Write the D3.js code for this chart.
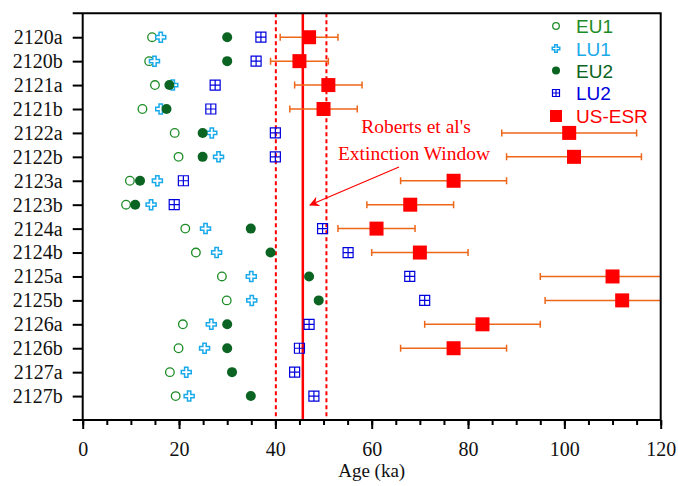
<!DOCTYPE html>
<html>
<head>
<meta charset="utf-8">
<script src="https://cdn.jsdelivr.net/npm/d3@7"></script>
<style>
  body { margin: 0; background: #fff; }
  svg { display: block; }
</style>
</head>
<body>
<svg id="chart"></svg>
<script>
// samples, top to bottom
const samples = ["2120a", "2120b", "2121a", "2121b", "2122a", "2122b", "2123a", "2123b",
                 "2124a", "2124b", "2125a", "2125b", "2126a", "2126b", "2127a", "2127b"];

// ages in ka
const eu1 = [14.4, 13.8, 15.0, 12.4, 19.1, 19.9, 9.8, 9.0, 21.3, 23.5, 28.9, 29.9, 20.8, 19.9, 18.1, 19.3];
const lu1 = [16.2, 14.9, 18.7, 16.2, 26.8, 28.2, 15.5, 14.2, 25.5, 27.8, 35.0, 35.1, 26.7, 25.3, 21.5, 22.1];
const eu2 = [30.0, 30.0, 18.0, 17.4, 24.9, 24.9, 11.9, 10.9, 34.9, 39.0, 47.0, 49.0, 30.0, 30.0, 31.0, 34.9];
const lu2 = [37.0, 36.0, 27.5, 26.6, 40.0, 40.0, 20.9, 19.0, 49.8, 55.1, 67.9, 71.0, 47.0, 45.0, 44.0, 48.0];
const esr = [47, 45, 51, 50, 101, 102, 77, 68, 61, 70, 110, 112, 83, 77, null, null];
const esrErr = [6, 6, 7, 7, 14, 14, 11, 9, 8, 10, 15, 16, 12, 11, null, null];

// extinction window (Roberts et al)
const windowLow = 40.1;
const windowMid = 45.7;
const windowHigh = 50.6;

const xMajorTicks = [0, 20, 40, 60, 80, 100, 120];
const xMinorTicks = d3.range(0, 121, 5);

const width = 678;
const height = 486;
const plotLeft = 82.7, plotRight = 660.7, plotTop = 13.3, plotBottom = 420;

const colEU1 = "#1e8c26";
const colLU1 = "#1aaaea";
const colEU2 = "#0b6422";
const colLU2 = "#0000dd";
const colESR = "#ff0000";
const colErr = "#ee6618";
const serif = "'Liberation Serif', 'Times New Roman', serif";

const svg = d3.select("#chart")
    .attr("width", width)
    .attr("height", height);

const x = d3.scaleLinear().domain([0, 120]).range([plotLeft, plotRight]);
const y = d3.scalePoint().domain(samples).range([plotTop, plotBottom]).padding(1);

// vertical window lines
svg.append("line")
    .attr("x1", x(windowMid)).attr("x2", x(windowMid))
    .attr("y1", plotTop).attr("y2", plotBottom)
    .attr("stroke", colESR).attr("stroke-width", 2.5);
[windowLow, windowHigh].forEach(function (v) {
    svg.append("line")
        .attr("x1", x(v)).attr("x2", x(v))
        .attr("y1", plotTop).attr("y2", plotBottom)
        .attr("stroke", colESR).attr("stroke-width", 2)
        .attr("stroke-dasharray", "4,3");
});

// error bars
const esrRows = samples.map(function (s, i) {
    return { s: s, v: esr[i], e: esrErr[i] };
}).filter(function (d) { return d.v !== null; });

svg.append("clipPath").attr("id", "clip")
    .append("rect").attr("x", plotLeft).attr("y", plotTop)
    .attr("width", plotRight - plotLeft).attr("height", plotBottom - plotTop);
const plot = svg.append("g");
const bars = plot.append("g").attr("clip-path", "url(#clip)");

esrRows.forEach(function (d) {
    const yy = y(d.s);
    bars.append("line")
        .attr("x1", x(d.v - d.e)).attr("x2", x(d.v + d.e))
        .attr("y1", yy).attr("y2", yy)
        .attr("stroke", colErr).attr("stroke-width", 1.5);
    [d.v - d.e, d.v + d.e].forEach(function (c) {
        bars.append("line")
            .attr("x1", x(c)).attr("x2", x(c))
            .attr("y1", yy - 3.5).attr("y2", yy + 3.5)
            .attr("stroke", colErr).attr("stroke-width", 1.5);
    });
});

// markers
function crossPath(w) {
    return d3.symbol().type(d3.symbolCross).size(5 * (w / 3) * (w / 3))();
}
function gridPath(h) {
    return "M" + (-h) + "," + (-h) + "H" + h + "V" + h + "H" + (-h) + "Z" +
           "M0," + (-h) + "V" + h + "M" + (-h) + ",0H" + h;
}

function drawEU1(g, cx, cy, r) {
    g.append("circle").attr("cx", cx).attr("cy", cy).attr("r", r)
        .attr("fill", "#fff").attr("stroke", colEU1).attr("stroke-width", 1.3);
}
function drawLU1(g, cx, cy, w) {
    g.append("path").attr("transform", "translate(" + cx + "," + cy + ")")
        .attr("d", crossPath(w))
        .attr("fill", "#fff").attr("stroke", colLU1).attr("stroke-width", 1.5);
}
function drawEU2(g, cx, cy, r) {
    g.append("circle").attr("cx", cx).attr("cy", cy).attr("r", r).attr("fill", colEU2);
}
function drawLU2(g, cx, cy, h) {
    g.append("path").attr("transform", "translate(" + cx + "," + cy + ")")
        .attr("d", gridPath(h))
        .attr("fill", "none").attr("stroke", colLU2).attr("stroke-width", 1.2);
}
function drawESR(g, cx, cy, s) {
    g.append("rect").attr("x", cx - s / 2).attr("y", cy - s / 2)
        .attr("width", s).attr("height", s).attr("fill", colESR);
}

samples.forEach(function (s, i) {
    const yy = y(s);
    drawEU1(plot, x(eu1[i]), yy, 4.3);
    drawLU1(plot, x(lu1[i]), yy, 10);
    drawEU2(plot, x(eu2[i]), yy, 5);
    drawLU2(plot, x(lu2[i]), yy, 5);
});
esrRows.forEach(function (d) {
    drawESR(plot, x(d.v), y(d.s), 14);
});

// axes
const yAxis = svg.append("g")
    .attr("transform", "translate(" + plotLeft + ",0)")
    .call(d3.axisLeft(y).tickSize(10).tickPadding(10));
yAxis.select(".domain").remove();
yAxis.selectAll("line").attr("stroke", "#000").attr("stroke-width", 2);
yAxis.selectAll("text")
    .attr("font-family", serif)
    .attr("font-size", 20).attr("fill", "#111");

const xMinor = svg.append("g")
    .attr("transform", "translate(0," + plotBottom + ")")
    .call(d3.axisBottom(x).tickValues(xMinorTicks).tickSize(5).tickFormat(""));
xMinor.select(".domain").remove();
xMinor.selectAll("line").attr("stroke", "#000").attr("stroke-width", 2);

const xAxis = svg.append("g")
    .attr("transform", "translate(0," + plotBottom + ")")
    .call(d3.axisBottom(x).tickValues(xMajorTicks).tickSize(9).tickPadding(13));
xAxis.select(".domain").remove();
xAxis.selectAll("line").attr("stroke", "#000").attr("stroke-width", 2);
xAxis.selectAll("text")
    .attr("font-family", serif)
    .attr("font-size", 20).attr("fill", "#111");

// frame
svg.append("path")
    .attr("d", "M" + (plotLeft - 10) + "," + plotTop + "H" + plotRight + "V" + plotBottom + "H" + (plotLeft - 10) +
               "M" + plotLeft + "," + plotTop + "V" + plotBottom)
    .attr("fill", "none").attr("stroke", "#000").attr("stroke-width", 2);

svg.append("text")
    .attr("x", (plotLeft + plotRight) / 2).attr("y", 477)
    .attr("text-anchor", "middle")
    .attr("font-family", serif)
    .attr("font-size", 19).attr("fill", "#111")
    .text("Age (ka)");

// annotation
svg.append("text").attr("x", 416).attr("y", 133).attr("text-anchor", "middle")
    .attr("font-family", serif).attr("font-size", 19.5).attr("fill", colESR)
    .text("Roberts et al's");
svg.append("text").attr("x", 414).attr("y", 160).attr("text-anchor", "middle")
    .attr("font-family", serif).attr("font-size", 19.5).attr("fill", colESR)
    .text("Extinction Window");

svg.append("defs").append("marker")
    .attr("id", "arrow").attr("viewBox", "0 0 10 10")
    .attr("refX", 9).attr("refY", 5)
    .attr("markerWidth", 14).attr("markerHeight", 10)
    .attr("markerUnits", "userSpaceOnUse")
    .attr("orient", "auto")
    .append("path").attr("d", "M0,0L10,5L0,10L3,5Z").attr("fill", colESR);
svg.append("line")
    .attr("x1", 399).attr("y1", 167).attr("x2", 310).attr("y2", 205)
    .attr("stroke", colESR).attr("stroke-width", 1.2)
    .attr("marker-end", "url(#arrow)");

// legend
const legend = [
    { name: "EU1", color: colEU1, y: 26, draw: function (g, cx, cy) { drawEU1(g, cx, cy, 3.3); } },
    { name: "LU1", color: colLU1, y: 48.5, draw: function (g, cx, cy) { drawLU1(g, cx, cy, 7.5); } },
    { name: "EU2", color: colEU2, y: 70.5, draw: function (g, cx, cy) { drawEU2(g, cx, cy, 4); } },
    { name: "LU2", color: colLU2, y: 93, draw: function (g, cx, cy) { drawLU2(g, cx, cy, 3.5); } },
    { name: "US-ESR", color: colESR, y: 116, draw: function (g, cx, cy) { drawESR(g, cx, cy, 12); } }
];
const lg = svg.append("g");
legend.forEach(function (d) {
    d.draw(lg, 556, d.y);
    lg.append("text").attr("x", 576).attr("y", d.y + 7)
        .attr("font-family", "'Liberation Sans', Arial, sans-serif")
        .attr("font-size", 19).attr("fill", d.color)
        .text(d.name);
});
</script>
</body>
</html>
